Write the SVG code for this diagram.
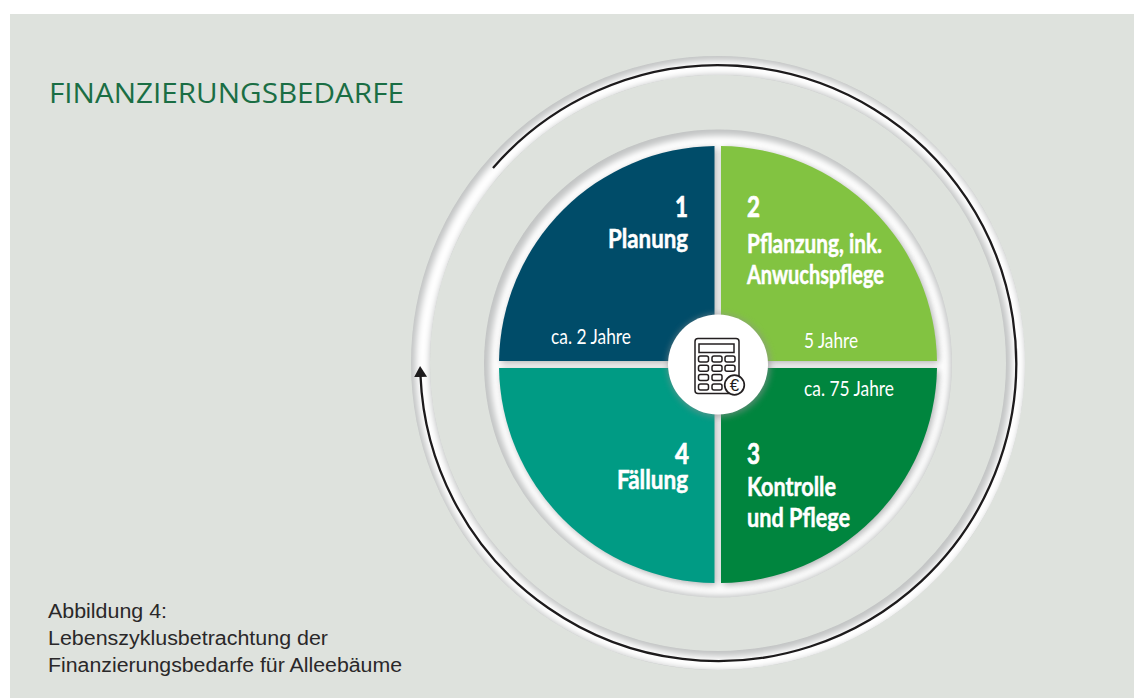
<svg xmlns="http://www.w3.org/2000/svg" width="1134" height="698" viewBox="0 0 1134 698">
<style>
.lab{font-family:"Lato","Open Sans",sans-serif;fill:#fff}
.b{font-weight:700;font-size:26px;stroke:#fff;stroke-width:0.5}
.n{font-weight:700;font-size:28px;stroke:#fff;stroke-width:0.7}
.y{font-size:22px}
.cap{font-family:"Liberation Sans",Arial,sans-serif;font-size:19.500px;fill:#2a2829}
.key{fill:none;stroke:#231f20;stroke-width:1.5}
.ringbase{fill:none;stroke:#c2c4c4}
.ringlight{fill:none;stroke:#fff}
</style>
<defs>
<filter id="blur3" x="-10%" y="-10%" width="120%" height="120%"><feGaussianBlur stdDeviation="3"/></filter>
<filter id="blur1" x="-10%" y="-10%" width="120%" height="120%"><feGaussianBlur stdDeviation="0.7"/></filter>
<filter id="shadow" x="-10%" y="-10%" width="120%" height="120%"><feGaussianBlur stdDeviation="3.5"/></filter>
<clipPath id="outerClip"><path clip-rule="evenodd" d="M718,56a307,307 0 1 0 0.010,0ZM718,75a288,288 0 1 0 0.010,0Z"/></clipPath>
<clipPath id="innerClip"><circle cx="718" cy="363.500" r="234"/></clipPath>
<marker id="arrow" markerUnits="userSpaceOnUse" markerWidth="14" markerHeight="14" refX="1" refY="6.500" orient="auto"><path d="M0,0L11,6.500L0,13Z" fill="#1d1b1c"/></marker>
</defs>
<rect x="0" y="0" width="1134" height="698" fill="#fff"/>
<rect x="10" y="14" width="1124" height="684" fill="#dee2dd"/>

<text x="49" y="103" textLength="355" lengthAdjust="spacingAndGlyphs" font-family="'Open Sans','Noto Sans',sans-serif" font-size="28" fill="#1a6e44">FINANZIERUNGSBEDARFE</text>

<g id="outer-ring" filter="url(#blur1)">
  <circle class="ringbase" cx="718" cy="363" r="297.500" stroke-width="19"/>
  <g clip-path="url(#outerClip)"><circle class="ringlight" cx="720.500" cy="365.500" r="298" stroke-width="14" filter="url(#blur3)"/></g>
</g>

<g id="disc" filter="url(#blur1)">
  <circle cx="718" cy="363.500" r="234" fill="#c2c4c4"/>
  <g clip-path="url(#innerClip)"><circle cx="720" cy="365.500" r="230" fill="#fff" filter="url(#blur3)"/></g>
</g>

<g id="quadrant-shadows" filter="url(#shadow)" fill="#8f9192" opacity="0.7">
  <path d="M716.500,148A218.500,218.500 0 0 0 501,363L716.500,363Z"/>
  <path d="M723,148A218.500,218.500 0 0 1 939,363L723,363Z"/>
  <path d="M716.500,585A218.500,218.500 0 0 1 501,370L716.500,370Z"/>
  <path d="M723,585A218.500,218.500 0 0 0 939,370L723,370Z"/>
</g>

<g id="node-1">
  <path d="M714.500,146A218.500,218.500 0 0 0 499,361L714.500,361Z" fill="#004c69"/>
  <text class="lab n" x="675" y="217" textLength="13" lengthAdjust="spacingAndGlyphs">1</text>
  <text class="lab b" x="608" y="248" textLength="80" lengthAdjust="spacingAndGlyphs">Planung</text>
  <text class="lab y" x="551" y="344" textLength="80" lengthAdjust="spacingAndGlyphs">ca. 2 Jahre</text>
</g>
<g id="node-2">
  <path d="M721,146A218.500,218.500 0 0 1 937,361L721,361Z" fill="#82c341"/>
  <text class="lab n" x="747" y="217" textLength="13" lengthAdjust="spacingAndGlyphs">2</text>
  <text class="lab b" x="747" y="253" textLength="135" lengthAdjust="spacingAndGlyphs">Pflanzung, ink.</text>
  <text class="lab b" x="747" y="284" textLength="137" lengthAdjust="spacingAndGlyphs">Anwuchspflege</text>
  <text class="lab y" x="804" y="348" textLength="54" lengthAdjust="spacingAndGlyphs">5 Jahre</text>
</g>
<g id="node-3">
  <path d="M721,583A218.500,218.500 0 0 0 937,368L721,368Z" fill="#00853e"/>
  <text class="lab n" x="747" y="464" textLength="13" lengthAdjust="spacingAndGlyphs">3</text>
  <text class="lab b" x="747" y="496" textLength="89" lengthAdjust="spacingAndGlyphs">Kontrolle</text>
  <text class="lab b" x="747" y="527" textLength="103" lengthAdjust="spacingAndGlyphs">und Pflege</text>
  <text class="lab y" x="804" y="396" textLength="90" lengthAdjust="spacingAndGlyphs">ca. 75 Jahre</text>
</g>
<g id="node-4">
  <path d="M714.500,583A218.500,218.500 0 0 1 499,368L714.500,368Z" fill="#009b84"/>
  <text class="lab n" x="675" y="464" textLength="14" lengthAdjust="spacingAndGlyphs">4</text>
  <text class="lab b" x="617" y="489" textLength="71" lengthAdjust="spacingAndGlyphs">Fällung</text>
</g>

<g id="center">
  <circle cx="719" cy="365.500" r="51.500" fill="#8f9192" opacity="0.6" filter="url(#blur3)"/>
  <circle cx="718" cy="364.500" r="50" fill="#fff"/>
  <rect class="key" x="695" y="338.500" width="44" height="55" rx="3"/>
  <rect class="key" x="699" y="344" width="35" height="8.500"/>
  <g>
    <rect class="key" x="698.500" y="356" width="10" height="6" rx="2"/><rect class="key" x="712" y="356" width="10" height="6" rx="2"/><rect class="key" x="725" y="356" width="10" height="6" rx="2"/>
    <rect class="key" x="698.500" y="365.300" width="10" height="6" rx="2"/><rect class="key" x="712" y="365.300" width="10" height="6" rx="2"/><rect class="key" x="725" y="365.300" width="10" height="6" rx="2"/>
    <rect class="key" x="698.500" y="374.500" width="10" height="6" rx="2"/><rect class="key" x="712" y="374.500" width="10" height="6" rx="2"/>
    <rect class="key" x="698.500" y="384" width="10" height="6" rx="2"/><rect class="key" x="712" y="384" width="10" height="6" rx="2"/>
  </g>
  <circle cx="734.500" cy="385" r="9.800" fill="#fff" stroke="#231f20" stroke-width="1.700"/>
  <text x="734.500" y="391" text-anchor="middle" font-family="'Liberation Sans',Arial,sans-serif" font-size="17" fill="#231f20">€</text>
</g>

<g id="connectors">
  <path d="M493,168A298,298 0 1 1 420.500,376" fill="none" stroke="#1d1b1c" stroke-width="2.300" marker-end="url(#arrow)"/>
</g>

<g id="caption">
  <text class="cap" x="48" y="618" textLength="119" lengthAdjust="spacingAndGlyphs">Abbildung 4:</text>
  <text class="cap" x="48" y="645" textLength="280" lengthAdjust="spacingAndGlyphs">Lebenszyklusbetrachtung der</text>
  <text class="cap" x="48" y="672" textLength="354" lengthAdjust="spacingAndGlyphs">Finanzierungsbedarfe für Alleebäume</text>
</g>
</svg>
